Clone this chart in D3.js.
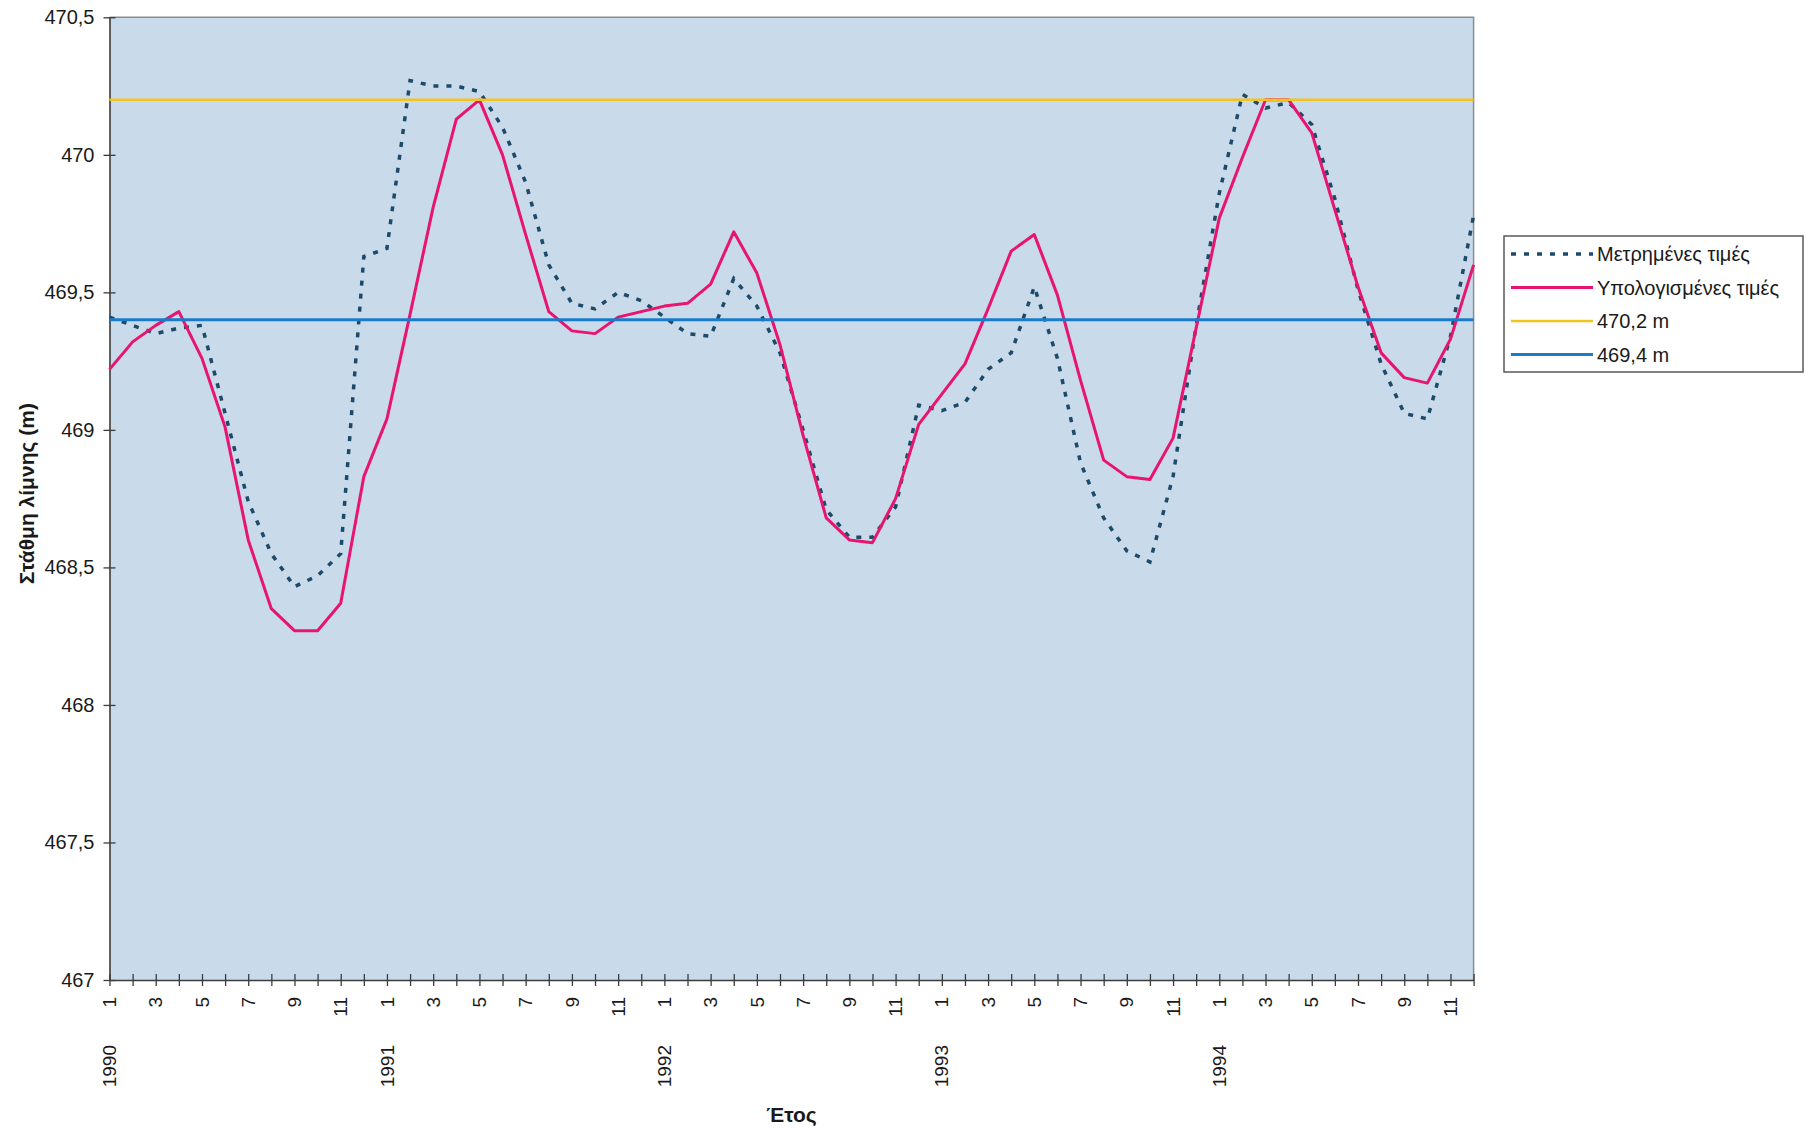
<!DOCTYPE html>
<html>
<head>
<meta charset="utf-8">
<script src="https://cdn.jsdelivr.net/npm/d3@7"></script>
<style>
  html, body { margin: 0; padding: 0; background: #ffffff; }
  svg { display: block; font-family: "Liberation Sans", Arial, sans-serif; }
</style>
</head>
<body>
<svg id="chart" width="1808" height="1133"></svg>
<script>
// Lake level, monthly, 1990–1994: measured vs computed, with two reference levels
const years = [1990, 1991, 1992, 1993, 1994];
const months = [1, 2, 3, 4, 5, 6, 7, 8, 9, 10, 11, 12];

const measured = [
  469.41, 469.38, 469.35, 469.37, 469.38, 469.06, 468.74, 468.55, 468.43, 468.47, 468.55, 469.63,
  469.66, 470.27, 470.25, 470.25, 470.23, 470.10, 469.90, 469.60, 469.46, 469.44, 469.50, 469.47,
  469.41, 469.35, 469.34, 469.55, 469.45, 469.28, 469.00, 468.71, 468.61, 468.61, 468.72, 469.09,
  469.07, 469.10, 469.22, 469.28, 469.52, 469.26, 468.88, 468.68, 468.56, 468.52, 468.83, 469.38,
  469.86, 470.22, 470.17, 470.19, 470.11, 469.84, 469.51, 469.24, 469.06, 469.04, 469.34, 469.78
];

const computed = [
  469.22, 469.32, 469.38, 469.43, 469.26, 469.01, 468.60, 468.35, 468.27, 468.27, 468.37, 468.83,
  469.04, 469.42, 469.81, 470.13, 470.20, 470.00, 469.71, 469.43, 469.36, 469.35, 469.41, 469.43,
  469.45, 469.46, 469.53, 469.72, 469.57, 469.31, 468.98, 468.68, 468.60, 468.59, 468.75, 469.02,
  469.13, 469.24, 469.44, 469.65, 469.71, 469.49, 469.18, 468.89, 468.83, 468.82, 468.97, 469.37,
  469.77, 469.99, 470.20, 470.20, 470.08, 469.80, 469.52, 469.28, 469.19, 469.17, 469.33, 469.60
];

const upperLevel = 470.2;
const lowerLevel = 469.4;

const yTicks = [467, 467.5, 468, 468.5, 469, 469.5, 470, 470.5];
const monthTickLabels = [1, 3, 5, 7, 9, 11];

const seriesNames = ["Μετρημένες τιμές", "Υπολογισμένες τιμές", "470,2 m", "469,4 m"];
const yTitle = "Στάθμη λίμνης (m)";
const xTitle = "Έτος";

// ---- layout ----
const W = 1808, H = 1133;
const plot = { left: 109.5, right: 1473.6, top: 17.3, bottom: 980 };

const colors = {
  measured: "#1d4a6a",
  computed: "#e8146f",
  upper: "#f5c41c",
  lower: "#1a7cc8",
  plotBg: "#c9dbea",
  axis: "#3c3c3c",
  frame: "#8c8c8c",
  text: "#1a1a1a"
};

// one category per month
const cats = [];
years.forEach(y => months.forEach(m => cats.push({ key: y + "-" + m, year: y, month: m })));

const x = d3.scalePoint()
  .domain(cats.map(c => c.key))
  .range([plot.left, plot.right])
  .padding(0);

const y = d3.scaleLinear()
  .domain([467, 470.5])
  .range([plot.bottom, plot.top]);

const locale = d3.formatLocale({ decimal: ",", thousands: ".", grouping: [3], currency: ["", " €"] });
const fmt = locale.format("~f");

const svg = d3.select("#chart");

// plot area
svg.append("rect")
  .attr("x", plot.left).attr("y", plot.top)
  .attr("width", plot.right - plot.left).attr("height", plot.bottom - plot.top)
  .attr("fill", colors.plotBg);

// top/right frame
svg.append("path")
  .attr("d", `M${plot.left},${plot.top}H${plot.right}V${plot.bottom}`)
  .attr("fill", "none").attr("stroke", colors.frame).attr("stroke-width", 1.5);

// y axis
const yAxis = d3.axisLeft(y).tickValues(yTicks).tickFormat(fmt).tickSizeInner(6).tickSizeOuter(0).tickPadding(10);
const gy = svg.append("g").attr("transform", `translate(${plot.left},0)`).call(yAxis);
gy.select(".domain").attr("stroke", colors.axis).attr("stroke-width", 1.6);
gy.selectAll(".tick line").attr("stroke", colors.axis).attr("stroke-width", 1.3).attr("x2", 6).attr("x1", -6);
gy.selectAll(".tick text")
  .attr("font-size", 20).attr("fill", colors.text).attr("x", -15);

// x axis (months)
const xAxis = d3.axisBottom(x).tickSizeInner(6).tickSizeOuter(0).tickFormat("");
const gx = svg.append("g").attr("transform", `translate(0,${plot.bottom})`).call(xAxis);
gx.select(".domain").attr("stroke", colors.axis).attr("stroke-width", 1.6);
gx.selectAll(".tick line").attr("stroke", colors.axis).attr("stroke-width", 1.3).attr("y1", -6).attr("y2", 6);

// month labels (odd months), rotated
svg.append("g").selectAll("text")
  .data(cats.filter(c => monthTickLabels.includes(c.month)))
  .join("text")
  .attr("transform", d => `translate(${x(d.key)},${plot.bottom + 17}) rotate(-90)`)
  .attr("text-anchor", "end")
  .attr("dy", "0.35em")
  .attr("font-size", 19)
  .attr("fill", colors.text)
  .text(d => d.month);

// year labels, rotated
svg.append("g").selectAll("text")
  .data(cats.filter(c => c.month === 1))
  .join("text")
  .attr("transform", d => `translate(${x(d.key)},${plot.bottom + 65}) rotate(-90)`)
  .attr("text-anchor", "end")
  .attr("dy", "0.35em")
  .attr("font-size", 19)
  .attr("fill", colors.text)
  .text(d => d.year);

// axis titles
svg.append("text")
  .attr("x", (plot.left + plot.right) / 2).attr("y", 1122)
  .attr("text-anchor", "middle")
  .attr("font-size", 21).attr("font-weight", "bold").attr("fill", colors.text)
  .text(xTitle);

svg.append("text")
  .attr("transform", `translate(27,${(plot.top + plot.bottom) / 2 - 5}) rotate(-90)`)
  .attr("text-anchor", "middle").attr("dy", "0.35em")
  .attr("font-size", 21).attr("font-weight", "bold").attr("fill", colors.text)
  .text(yTitle);

// series
const line = d3.line().x((d, i) => x(cats[i].key)).y(d => y(d));

svg.append("path")
  .datum(measured)
  .attr("d", line)
  .attr("fill", "none")
  .attr("stroke", colors.measured)
  .attr("stroke-width", 3.5)
  .attr("stroke-dasharray", "5,8");

svg.append("path")
  .datum(computed)
  .attr("d", line)
  .attr("fill", "none")
  .attr("stroke", colors.computed)
  .attr("stroke-width", 3)
  .attr("stroke-linejoin", "round");

svg.append("path")
  .datum(cats.map(() => upperLevel))
  .attr("d", line)
  .attr("fill", "none")
  .attr("stroke", colors.upper)
  .attr("stroke-width", 2.6);

svg.append("path")
  .datum(cats.map(() => lowerLevel))
  .attr("d", line)
  .attr("fill", "none")
  .attr("stroke", colors.lower)
  .attr("stroke-width", 3);

// legend
const legend = { x: 1504, y: 236, w: 299, h: 136 };
const lg = svg.append("g");
lg.append("rect")
  .attr("x", legend.x).attr("y", legend.y)
  .attr("width", legend.w).attr("height", legend.h)
  .attr("fill", "#ffffff").attr("stroke", "#5a5a5a").attr("stroke-width", 1.5);

const legendItems = [
  { name: seriesNames[0], color: colors.measured, width: 3.5, dash: "5,8" },
  { name: seriesNames[1], color: colors.computed, width: 3, dash: null },
  { name: seriesNames[2], color: colors.upper, width: 2.6, dash: null },
  { name: seriesNames[3], color: colors.lower, width: 3, dash: null }
];

const rows = lg.selectAll("g.row").data(legendItems).join("g")
  .attr("class", "row")
  .attr("transform", (d, i) => `translate(0,${legend.y + 18 + i * 33.5})`);

rows.append("line")
  .attr("x1", legend.x + 7).attr("x2", legend.x + 89)
  .attr("y1", 0).attr("y2", 0)
  .attr("stroke", d => d.color)
  .attr("stroke-width", d => d.width)
  .attr("stroke-dasharray", d => d.dash);

rows.append("text")
  .attr("x", legend.x + 93).attr("y", 0).attr("dy", "0.35em")
  .attr("font-size", 20).attr("fill", colors.text)
  .text(d => d.name);
</script>
</body>
</html>
